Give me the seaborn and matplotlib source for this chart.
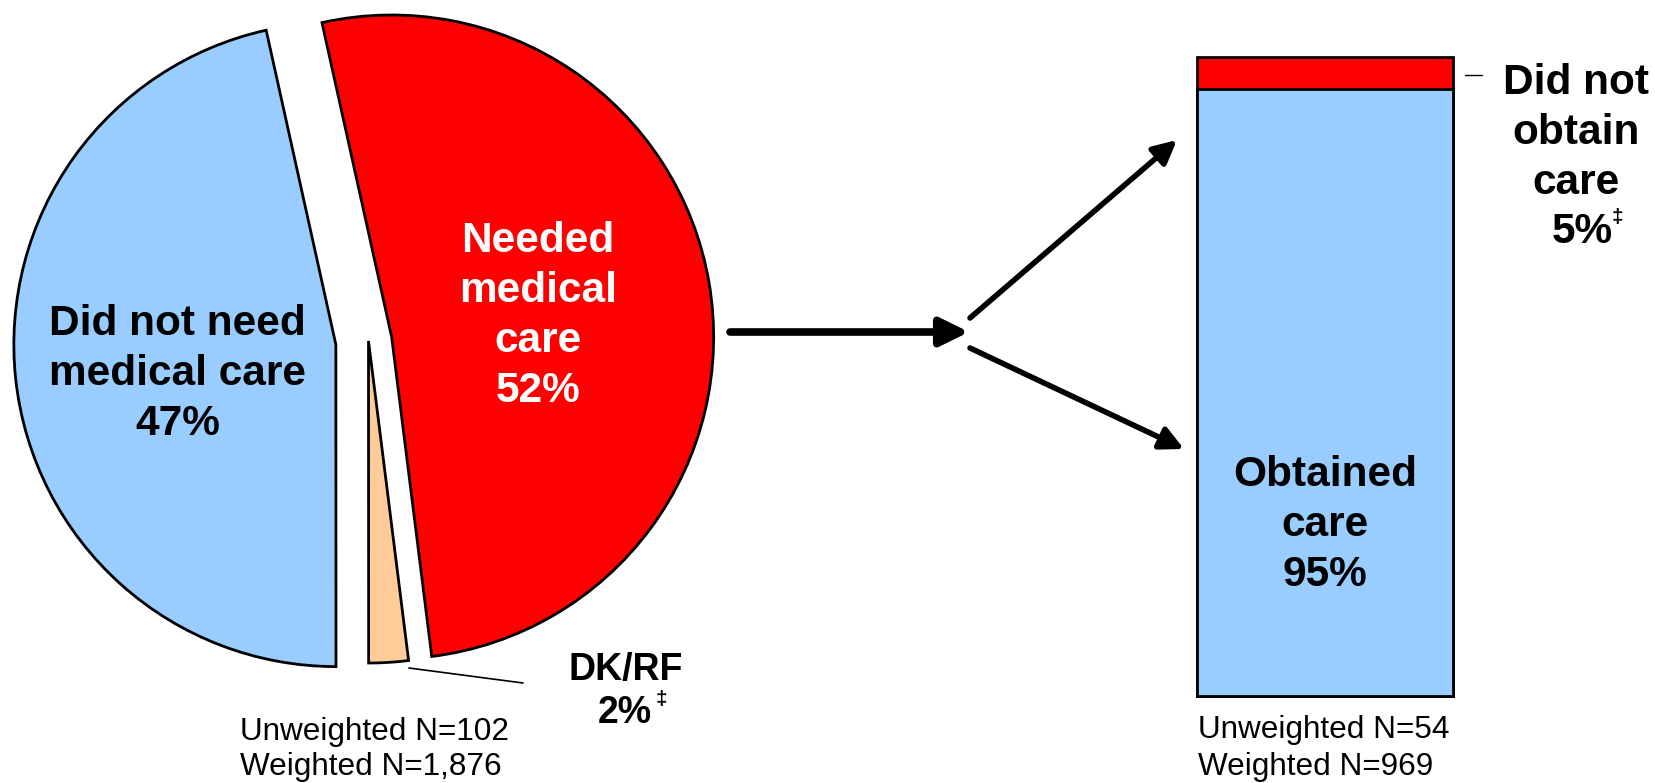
import matplotlib
matplotlib.use("Agg")
import matplotlib.pyplot as plt
import seaborn as sns
import pandas as pd

# ------------------------------
# DATA
# ------------------------------
pie_labels = ["Did not need\nmedical care\n47%", "DK/RF\n2%", "Needed\nmedical\ncare\n52%"]
pie_values = [47, 2, 52]
pie_colors = ["#99CCFF", "#FFCC99", "#FF0000"]
pie_explode = [0.102, 0.0, 0.073]   # fraction of radius

bar_status = ["Did not obtain care", "Obtained care"]
bar_values = [5, 95]
bar_colors = ["#FF0000", "#99CCFF"]
bar_labels = ["Did not\nobtain\ncare\n5%", "Obtained\ncare\n95%"]

pie_n = ["Unweighted N=102", "Weighted N=1,876"]
bar_n = ["Unweighted N=54", "Weighted N=969"]

# ------------------------------
# FIGURE SETUP (main axes in pixel units)
# ------------------------------
sns.set_style("white")
plt.rcParams["font.family"] = ["Liberation Sans", "DejaVu Sans"]
plt.rcParams["text.color"] = "black"

W, H = 1656, 783
fig = plt.figure(figsize=(W / 100, H / 100), dpi=100)
ax = fig.add_axes([0, 0, 1, 1])
ax.set_zorder(3)

# ------------------------------
# PIE
# ------------------------------
R = 322
wedges, _ = ax.pie(
    pie_values,
    colors=pie_colors,
    explode=[e * R for e in pie_explode],
    startangle=102.5,
    counterclock=True,
    center=(368.5, H - 341),
    radius=R,
    wedgeprops=dict(edgecolor="black", linewidth=2),
)
ax.set_xlim(0, W)
ax.set_ylim(0, H)
ax.set_aspect("equal")
ax.axis("off")

big = 30.5
ls = 1.33
ax.text(177.5, H - 374, pie_labels[0], ha="center", va="center",
        fontsize=big, fontweight="bold", color="black", linespacing=ls)
ax.text(538, H - 316, pie_labels[2], ha="center", va="center",
        fontsize=big, fontweight="bold", color="white", linespacing=ls)

# DK/RF label, split into name and percent so the dagger sits beside the percent
dk_name, dk_pct = pie_labels[1].split("\n")
ax.text(626, H - 670, dk_name, ha="center", va="center", fontsize=27, fontweight="bold")
ax.text(625, H - 713, dk_pct, ha="center", va="center", fontsize=27, fontweight="bold")
ax.text(656, H - 699, "\u2021", ha="left", va="center", fontsize=15, fontweight="bold")
ax.plot([409, 523], [H - 668, H - 683], color="black", lw=1.2)

ax.text(240, H - 732, pie_n[0], ha="left", va="center", fontsize=22.7)
ax.text(240, H - 767, pie_n[1], ha="left", va="center", fontsize=22.7)

# ------------------------------
# ARROWS
# ------------------------------
ax.annotate("", xy=(969, H - 332), xytext=(730, H - 332),
            arrowprops=dict(arrowstyle="-|>,head_length=0.85,head_width=0.42",
                            lw=5.5, color="black", mutation_scale=20,
                            shrinkA=0, shrinkB=0))
ax.annotate("", xy=(1177, H - 140), xytext=(970, H - 318),
            arrowprops=dict(arrowstyle="-|>,head_length=0.7,head_width=0.35",
                            lw=4, color="black", mutation_scale=20,
                            shrinkA=0, shrinkB=0))
ax.annotate("", xy=(1184, H - 449), xytext=(970, H - 348),
            arrowprops=dict(arrowstyle="-|>,head_length=0.7,head_width=0.35",
                            lw=4, color="black", mutation_scale=20,
                            shrinkA=0, shrinkB=0))

# ------------------------------
# STACKED BAR
# ------------------------------
bx0, bx1, by_top, by_bot = 1197, 1453, 57, 696
ax_bar = fig.add_axes([bx0 / W, (H - by_bot) / H, (bx1 - bx0) / W, (by_bot - by_top) / H])

bar_df = pd.DataFrame({"group": ["care", "care"], "status": bar_status, "pct": bar_values})
total = bar_df["pct"].sum()
obtained = bar_df.loc[bar_df["status"] == "Obtained care", "pct"].sum()

sns.barplot(x=["care"], y=[total], color=bar_colors[0], saturation=1, width=1,
            edgecolor="black", linewidth=2, ax=ax_bar)
sns.barplot(x=["care"], y=[obtained], color=bar_colors[1], saturation=1, width=1,
            edgecolor="black", linewidth=2, ax=ax_bar)
for p in ax_bar.patches:
    p.set_clip_on(False)
ax_bar.set_xlim(-0.5, 0.5)
ax_bar.set_ylim(0, 100)
ax_bar.axis("off")

ax.text((bx0 + bx1) / 2, H - 525, bar_labels[1], ha="center", va="center",
        fontsize=big, fontweight="bold", linespacing=ls)

not_obt_name, not_obt_pct = bar_labels[0].rsplit("\n", 1)
ax.text(1576, H - 133, not_obt_name, ha="center", va="center",
        fontsize=big, fontweight="bold", linespacing=ls)
ax.text(1582, H - 232, not_obt_pct, ha="center", va="center",
        fontsize=big, fontweight="bold")
ax.text(1612, H - 217, "\u2021", ha="left", va="center", fontsize=15, fontweight="bold")
ax.plot([1465, 1482], [H - 75, H - 75], color="black", lw=1)

ax.text(1198, H - 730, bar_n[0], ha="left", va="center", fontsize=22.7)
ax.text(1198, H - 767, bar_n[1], ha="left", va="center", fontsize=22.7)

plt.savefig("out.png", dpi=100)
